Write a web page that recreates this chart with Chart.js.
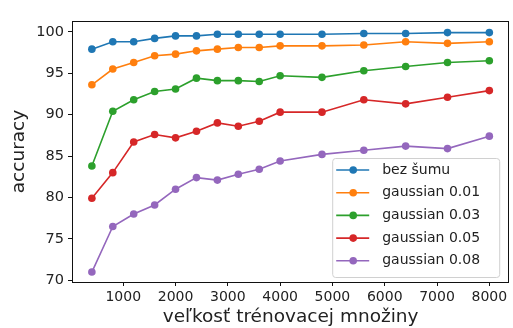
<!DOCTYPE html>
<html>
<head>
<meta charset="utf-8">
<script src="https://cdn.jsdelivr.net/npm/chart.js@4.4.1/dist/chart.umd.min.js"></script>
<style>
  html, body { margin: 0; padding: 0; background: #fff; }
  #wrap { width: 513px; height: 328px; }
</style>
</head>
<body>
<div id="wrap"><canvas id="myChart" width="513" height="328"></canvas></div>
<script>
// training set sizes
var sizes = [400, 800, 1200, 1600, 2000, 2400, 2800, 3200, 3600, 4000, 4800, 5600, 6400, 7200, 8000];

var bezSumu = [97.9, 98.8, 98.8, 99.2, 99.5, 99.5, 99.7, 99.7, 99.7, 99.7, 99.7, 99.8, 99.8, 99.9, 99.9];
var gauss001 = [93.6, 95.5, 96.3, 97.1, 97.3, 97.7, 97.9, 98.1, 98.1, 98.3, 98.3, 98.4, 98.8, 98.6, 98.8];
var gauss003 = [83.8, 90.4, 91.8, 92.8, 93.1, 94.4, 94.1, 94.1, 94.0, 94.7, 94.5, 95.3, 95.8, 96.3, 96.5];
var gauss005 = [79.9, 83.0, 86.7, 87.6, 87.2, 88.0, 89.0, 88.6, 89.2, 90.3, 90.3, 91.8, 91.3, 92.1, 92.9];
var gauss008 = [71.0, 76.5, 78.0, 79.1, 81.0, 82.4, 82.1, 82.8, 83.4, 84.4, 85.2, 85.7, 86.2, 85.9, 87.4];

var seriesLabels = ["bez šumu", "gaussian 0.01", "gaussian 0.03", "gaussian 0.05", "gaussian 0.08"];
var xTicks = [1000, 2000, 3000, 4000, 5000, 6000, 7000, 8000];
var yTicks = [70, 75, 80, 85, 90, 95, 100];

var colors = ["#1f77b4", "#ff7f0e", "#2ca02c", "#d62728", "#9467bd"];
var FONT = "'DejaVu Sans', sans-serif";

function makeSet(label, values, color) {
  return {
    label: label,
    data: values.map((v, i) => ({ x: sizes[i], y: v })),
    borderColor: color,
    backgroundColor: color,
    borderWidth: 1.6,
    pointRadius: 3.8,
    pointHoverRadius: 3.8,
    pointBorderWidth: 0,
    tension: 0
  };
}

var allValues = [bezSumu, gauss001, gauss003, gauss005, gauss008];
var datasets = allValues.map((vals, i) => makeSet(seriesLabels[i], vals, colors[i]));

// frame around the plot + legend box in lower right
var framePlugin = {
  id: "frame",
  afterDatasetsDraw: function(chart) {
    var ctx = chart.ctx, ca = chart.chartArea;
    ctx.save();
    ctx.strokeStyle = "#111";
    ctx.lineWidth = 1;
    ctx.strokeRect(Math.round(ca.left) + 0.5, Math.round(ca.top) + 0.5,
      Math.round(ca.right - ca.left) - 1, Math.round(ca.bottom - ca.top));

    // legend
    var w = 167, h = 119;
    var bx = ca.right - 10 - w, by = ca.bottom - 5 - h;
    ctx.fillStyle = "rgba(255,255,255,0.85)";
    ctx.strokeStyle = "#d0d0d0";
    ctx.beginPath();
    ctx.roundRect(bx + 0.5, by + 0.5, w, h, 3);
    ctx.fill();
    ctx.stroke();
    ctx.font = "14px " + FONT;
    ctx.textBaseline = "middle";
    chart.data.datasets.forEach(function(ds, i) {
      var cy = by + 12 + i * 22.7;
      ctx.strokeStyle = ds.borderColor;
      ctx.lineWidth = 1.6;
      ctx.beginPath();
      ctx.moveTo(bx + 4, cy);
      ctx.lineTo(bx + 37, cy);
      ctx.stroke();
      ctx.fillStyle = ds.borderColor;
      ctx.beginPath();
      ctx.arc(bx + 21, cy, 3.8, 0, Math.PI * 2);
      ctx.fill();
      ctx.fillStyle = "#222";
      ctx.fillText(ds.label, bx + 50, cy);
    });
    ctx.restore();
  }
};

var ctx = document.getElementById("myChart").getContext("2d");
var myChart = new Chart(ctx, {
  type: "line",
  data: { datasets: datasets },
  plugins: [framePlugin],
  options: {
    responsive: false,
    animation: false,
    layout: { padding: { top: 21, right: 1, left: 0, bottom: 0 } },
    plugins: {
      legend: { display: false },
      tooltip: { enabled: false }
    },
    scales: {
      x: {
        type: "linear",
        min: 20,
        max: 8380,
        afterBuildTicks: function(scale) {
          scale.ticks = xTicks.map(v => ({ value: v }));
        },
        afterFit: function(scale) { scale.height = 46; },
        grid: { drawOnChartArea: false, drawTicks: true, tickLength: 4, color: "#111" },
        border: { display: false },
        ticks: {
          color: "#222",
          padding: 3,
          maxRotation: 0,
          font: { family: FONT, size: 14 },
          callback: v => String(v)
        },
        title: {
          display: true,
          text: "veľkosť trénovacej množiny",
          color: "#222",
          font: { family: FONT, size: 18.5 },
          padding: { top: 0, bottom: 0 }
        }
      },
      y: {
        min: 69.8,
        max: 101.3,
        afterBuildTicks: function(scale) {
          scale.ticks = yTicks.map(v => ({ value: v }));
        },
        afterFit: function(scale) { scale.width = 72; },
        grid: { drawOnChartArea: false, drawTicks: true, tickLength: 4, color: "#111" },
        border: { display: false },
        ticks: {
          color: "#222",
          padding: 4,
          font: { family: FONT, size: 14.5 },
          callback: v => String(v)
        },
        title: {
          display: true,
          text: "accuracy",
          color: "#222",
          font: { family: FONT, size: 18.5 },
          padding: { top: 8, bottom: 0 }
        }
      }
    }
  }
});
</script>
</body>
</html>
